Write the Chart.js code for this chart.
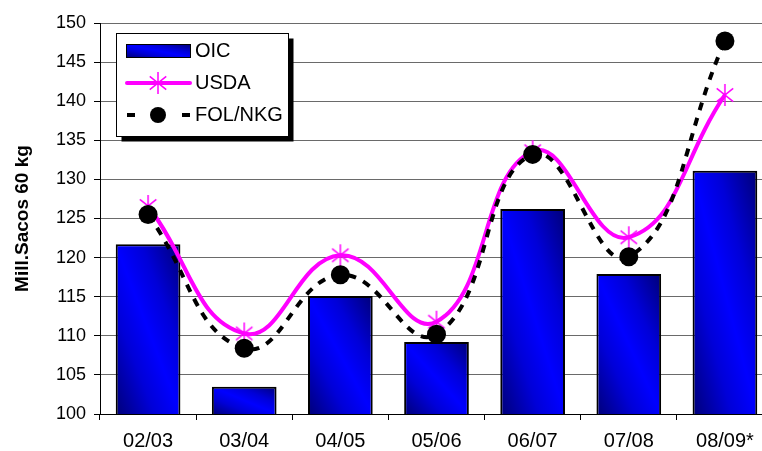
<!DOCTYPE html>
<html>
<head>
<meta charset="utf-8">
<script src="https://cdn.jsdelivr.net/npm/chart.js@4.4.0/dist/chart.umd.min.js"></script>
<style>
  html, body { margin: 0; padding: 0; background: #fff; overflow: hidden; }
  #wrap { width: 788px; height: 451px; }
  canvas { display: block; }
</style>
</head>
<body>
<div id="wrap"><canvas id="myChart" width="788" height="451" style="width:788px;height:451px"></canvas></div>
<script>
const labels = ['02/03', '03/04', '04/05', '05/06', '06/07', '07/08', '08/09*'];
const oic = [121.7, 103.5, 115.1, 109.2, 126.2, 117.9, 131.1];
const usda = [126.6, 110.3, 120.3, 111.8, 133.6, 122.6, 140.8];
const folNkg = [125.5, 108.4, 117.8, 110.2, 133.2, 120.1, 147.7];
const yMin = 100, yMax = 150, yStep = 5;

const barFrac = 0.673;
const font = '"Liberation Sans", Arial, sans-serif';
Chart.defaults.font.family = font;
Chart.defaults.color = '#000';

// excel style diagonal gradient: dark corners bottom-left / top-right, bright on the other diagonal
function diagGradient(ctx, x0, y0, x1, y1) {
  const w = x1 - x0, h = y1 - y0;
  const L2 = w * w + h * h || 1;
  const k = 2 * w * h / L2;
  const g = ctx.createLinearGradient(x0, y1, x0 + h * k, y1 - w * k);
  g.addColorStop(0, '#000078');
  g.addColorStop(0.3, '#0000d8');
  g.addColorStop(0.5, '#0000ff');
  g.addColorStop(0.7, '#0000d8');
  g.addColorStop(1, '#000078');
  return g;
}

function makeStar(r) {
  const c = document.createElement('canvas');
  c.width = c.height = 2 * r + 2;
  const g = c.getContext('2d');
  const m = r + 1;
  g.strokeStyle = '#ff00ff';
  g.lineWidth = 1.5;
  g.beginPath();
  g.moveTo(m - r * 0.75, m - r * 0.6); g.lineTo(m + r * 0.75, m + r * 0.6);
  g.moveTo(m - r * 0.75, m + r * 0.6); g.lineTo(m + r * 0.75, m - r * 0.6);
  g.moveTo(m, m - r); g.lineTo(m, m + r);
  g.stroke();
  return c;
}
const star = makeStar(11);

const legendBox = {
  id: 'legendBox',
  afterDraw(chart) {
    const c = chart.ctx;
    const x0 = 116.5, y0 = 33.5, w = 172, h = 103;
    c.save();
    c.fillStyle = '#000';
    c.fillRect(x0 + 5, y0 + 5, w, h);
    c.fillStyle = '#fff';
    c.fillRect(x0, y0, w, h);
    c.strokeStyle = '#000';
    c.lineWidth = 1;
    c.strokeRect(x0, y0, w, h);

    // OIC
    c.fillStyle = diagGradient(c, 126.5, 44.5, 190.5, 57.5);
    c.fillRect(126.5, 44.5, 64, 13);
    c.strokeRect(126.5, 44.5, 64, 13);

    // USDA
    c.strokeStyle = '#ff00ff';
    c.lineWidth = 4;
    c.lineCap = 'round';
    c.beginPath(); c.moveTo(127, 83); c.lineTo(190, 83); c.stroke();
    c.drawImage(star, 158 - star.width / 2, 83 - star.height / 2);

    // FOL/NKG
    c.strokeStyle = '#000';
    c.lineCap = 'butt';
    c.beginPath();
    c.moveTo(127, 115); c.lineTo(135, 115);
    c.moveTo(182, 115); c.lineTo(190, 115);
    c.stroke();
    c.fillStyle = '#000';
    c.beginPath(); c.arc(158, 115, 8, 0, Math.PI * 2); c.fill();

    c.font = '20px ' + font;
    c.textBaseline = 'middle';
    c.fillText('OIC', 195, 51);
    c.fillText('USDA', 195, 83);
    c.fillText('FOL/NKG', 195, 115);
    c.restore();
  }
};

const ctx = document.getElementById('myChart');

const chart = new Chart(ctx, {
  type: 'bar',
  data: {
    labels: labels,
    datasets: [{
      label: 'OIC',
      data: oic,
      order: 3,
      borderColor: '#000',
      borderWidth: 2,
      borderSkipped: false,
      categoryPercentage: 1,
      barPercentage: barFrac,
      backgroundColor: function (c) {
        const xs = c.chart.scales.x, ys = c.chart.scales.y;
        if (c.type !== 'data' || !xs || !ys) return '#0000ff';
        const cx = xs.getPixelForValue(c.dataIndex);
        const bw = xs.width / labels.length * barFrac;
        const top = ys.getPixelForValue(c.raw), bottom = ys.bottom;
        if (![cx, bw, top, bottom].every(Number.isFinite)) return '#0000ff';
        return diagGradient(c.chart.ctx, cx - bw / 2, top, cx + bw / 2, bottom);
      }
    }, {
      type: 'line',
      label: 'USDA',
      data: usda,
      order: 2,
      borderColor: '#ff00ff',
      borderWidth: 4,
      tension: 0.45,
      pointStyle: star,
      pointRadius: 11
    }, {
      type: 'line',
      label: 'FOL/NKG',
      data: folNkg,
      order: 1,
      borderColor: '#000',
      borderWidth: 4,
      borderDash: [8, 8],
      tension: 0.45,
      pointStyle: 'circle',
      pointRadius: 9.5,
      pointBorderWidth: 0,
      pointBackgroundColor: '#000'
    }]
  },
  options: {
    responsive: false,
    animation: false,
    layout: { padding: { top: 23, right: 3, left: 0, bottom: 0 } },
    scales: {
      x: {
        grid: { drawOnChartArea: false, tickLength: 6, color: '#000' },
        border: { color: '#000', width: 1 },
        ticks: { font: { size: 20 }, padding: 9, maxRotation: 0 },
        afterFit(scale) { scale.height = 37; }
      },
      y: {
        min: yMin,
        max: yMax,
        ticks: { stepSize: yStep, font: { size: 18 }, padding: 8 },
        grid: { color: '#6a6a6a', tickColor: '#000', tickLength: 6 },
        border: { color: '#000', width: 1 },
        title: {
          display: true,
          text: 'Mill.Sacos 60 kg',
          font: { size: 19, weight: 'bold' },
          padding: { top: 11, bottom: 0 }
        },
        afterFit(scale) { scale.width = 100; }
      }
    },
    plugins: {
      legend: { display: false },
      tooltip: { enabled: false }
    }
  },
  plugins: [legendBox]
});
chart.update();
</script>
</body>
</html>
